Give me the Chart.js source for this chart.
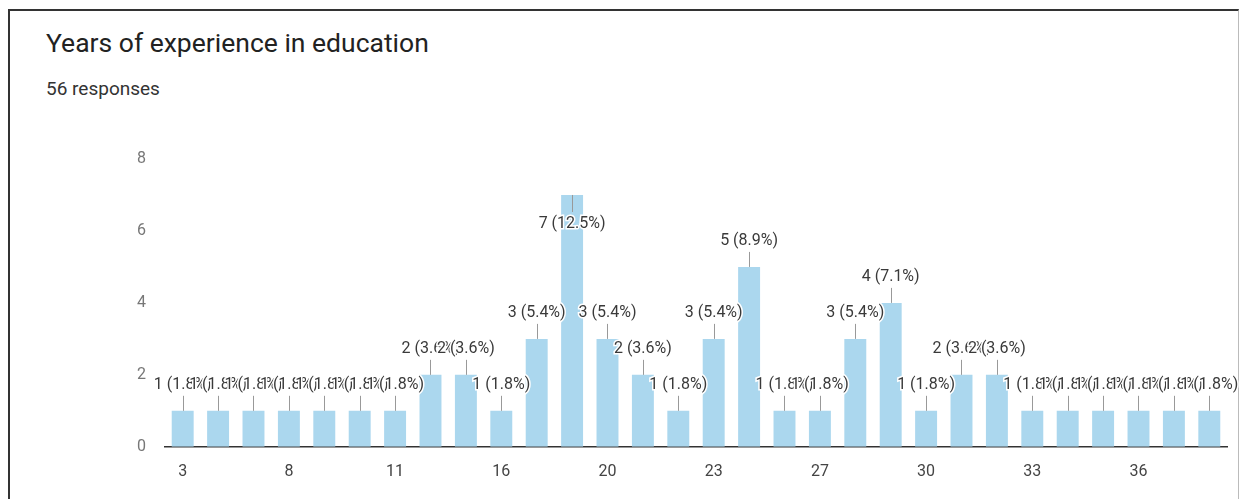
<!DOCTYPE html>
<html>
<head>
<meta charset="utf-8">
<script src="https://cdn.jsdelivr.net/npm/chart.js@4.4.1/dist/chart.umd.min.js"></script>
<style>
  body { margin: 0; background: #fff; font-family: Roboto, "Noto Sans", sans-serif; }
  #card { position: absolute; left: 8px; top: 9px; width: 1231px; height: 500px; border-top: 2px solid #333; border-left: 2px solid #333; border-right: 1px solid #bbb; box-sizing: border-box; }
  #title { position: absolute; left: 46px; top: 27px; font-size: 26.5px; color: #222; }
  #sub { position: absolute; left: 46px; top: 77px; font-size: 19px; color: #333; }
  #wrap { position: absolute; left: 0; top: 0; width: 1245px; height: 499px; }
</style>
</head>
<body>
<div id="card"></div>
<div id="title">Years of experience in education</div>
<div id="sub">56 responses</div>
<div id="wrap"><canvas id="myChart"></canvas></div>
<script>
// years of experience (only every third one is printed on the axis)
let years = ['3','4','5','8','9','10','11','12','15','16','17','18','20','21','22','23','24','25','27','28','29','30','31','32','33','34','35','36','37','38'];
let counts = [1,1,1,1,1,1,1,2,2,1,3,7,3,2,1,3,5,1,1,3,4,1,2,2,1,1,1,1,1,1];
let yTicks = [0, 2, 4, 6, 8];

let total = counts.reduce((a, b) => a + b, 0);

// labels "n (p%)" with a short leader line, like the forms chart
const barLabels = {
    id: 'barLabels',
    afterDatasetsDraw(chart) {
        let c = chart.ctx;
        let meta = chart.getDatasetMeta(0);
        let area = chart.chartArea;
        c.save();
        c.font = '16px Roboto, "Noto Sans", sans-serif';
        c.textAlign = 'center';
        c.textBaseline = 'middle';
        meta.data.forEach((bar, i) => {
            let v = counts[i];
            let txt = v + ' (' + (v / total * 100).toFixed(1) + '%)';
            let top = bar.y;
            let ty = top - 26, l1 = top, l2 = top - 15;
            if (ty - 9 < area.top + 5) { ty = top + 29; l2 = top + 17; }
            c.strokeStyle = '#999';
            c.lineWidth = 1;
            c.beginPath();
            c.moveTo(Math.round(bar.x) + 0.5, l1);
            c.lineTo(Math.round(bar.x) + 0.5, l2);
            c.stroke();
            c.lineWidth = 3;
            c.strokeStyle = '#fff';
            c.strokeText(txt, bar.x, ty);
            c.fillStyle = '#3a3a3a';
            c.fillText(txt, bar.x, ty);
        });
        c.restore();
    }
};

const ctx = document.getElementById('myChart').getContext('2d');
let myChart = new Chart(ctx, {
    type: 'bar',
    data: {
        labels: years,
        datasets: [{ data: counts, backgroundColor: '#abd7ee', barPercentage: 0.62, categoryPercentage: 1 }]
    },
    options: {
        responsive: true,
        maintainAspectRatio: false,
        animation: false,
        layout: { padding: { left: 118, right: 18, top: 159, bottom: 9 } },
        plugins: { legend: { display: false }, tooltip: { enabled: false } },
        scales: {
            x: {
                grid: { display: false },
                border: { color: '#333', width: 1.5 },
                ticks: {
                    autoSkip: false, maxRotation: 0, padding: 8,
                    color: '#444', font: { size: 16, family: 'Roboto' },
                    callback: (val, i) => i % 3 === 0 ? years[i] : ''
                }
            },
            y: {
                min: 0, max: 8,
                afterBuildTicks: axis => { axis.ticks = yTicks.map(v => ({ value: v })); },
                grid: { display: false, drawTicks: false },
                border: { display: false },
                ticks: { padding: 19, color: '#777', font: { size: 16, family: 'Roboto' } }
            }
        }
    },
    plugins: [barLabels]
});
</script>
</body>
</html>
